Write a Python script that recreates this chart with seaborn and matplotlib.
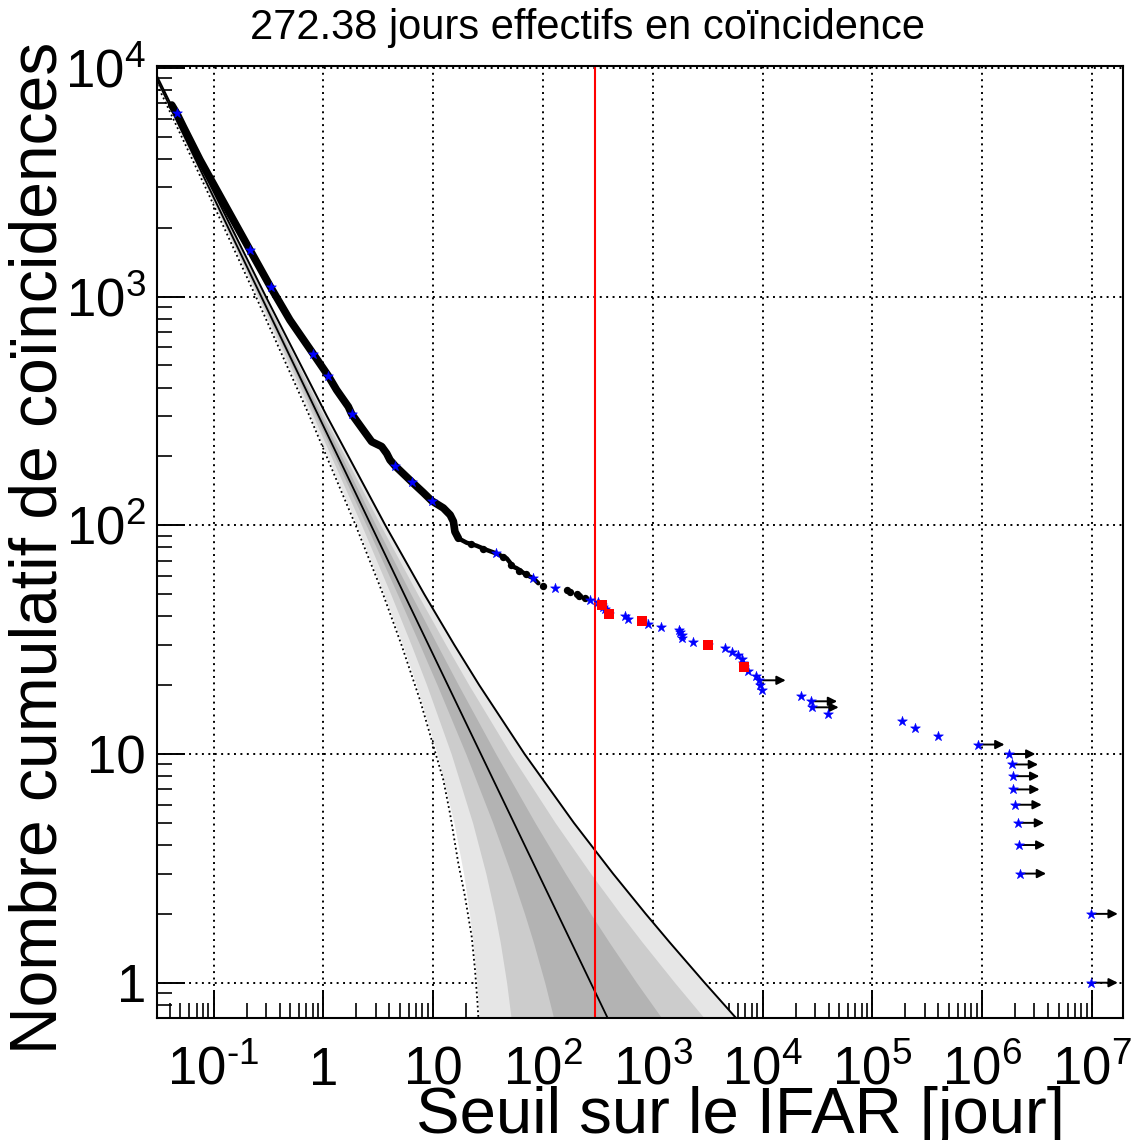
import numpy as np
import pandas as pd
import matplotlib
matplotlib.use("Agg")
import matplotlib.pyplot as plt
from matplotlib.ticker import FixedLocator, LogLocator, NullFormatter
import seaborn as sns

sns.set_theme(style="ticks")
plt.rcParams["font.family"] = ["Liberation Sans", "DejaVu Sans"]
plt.rcParams["mathtext.fontset"] = "custom"
plt.rcParams["mathtext.rm"] = "Liberation Sans"
plt.rcParams["text.color"] = "black"
plt.rcParams["axes.labelcolor"] = "black"

# Titre / seuil
temps_effectif = 272.38
seuil_rouge = 301

# Courbe dense des coincidences (points noirs) : IFAR [jour] et nombre cumulatif
dense_ifar = [90.8, 81.8, 71.1, 57.7, 53.7, 46.8, 37.4, 30.8, 24.9, 20.2, 17.0, 15.8,
              15.3, 14.3, 12.4, 9.71, 8.14, 6.47, 4.50, 4.05, 3.78, 3.40, 2.76, 2.31,
              1.81, 1.69, 1.32, 1.11, 0.811, 0.497, 0.332, 0.215, 0.1515, 0.1069,
              0.0753, 0.0530, 0.0462, 0.0416]
dense_nombre = [55.8, 58.7, 60.6, 64.9, 65.9, 71.7, 75.4, 78.0, 81.4, 83.9, 87.7, 93.8,
                104, 111, 119, 128, 139, 154, 182, 193, 206, 221, 232, 261,
                307, 330, 391, 450, 561, 789, 1098, 1597, 2162, 2925,
                3960, 5533, 6330, 6880]

# Points noirs isoles
points_ifar = [241.7, 214.5, 203.2, 176.6, 164.8, 100.8, 70.0, 60.5, 51.0, 43.0, 28.5, 22.0]
points_nombre = [48, 49, 50, 51, 52, 54, 61, 63, 67, 73, 79, 83]

# Etoiles bleues sur la courbe dense
etoiles_dense_ifar = [0.0462, 0.215, 0.332, 0.811, 1.11, 1.81, 4.50, 6.47, 9.71, 37.4, 81.8, 128.9]
etoiles_dense_nombre = [6330, 1597, 1098, 561, 450, 307, 182, 154, 128, 75.4, 58.7, 53]

# Queue : etoiles bleues (N = 1 ... 47)
queue_nombre = list(range(1, 48))
queue_ifar = [9.9e6, 9.9e6, 2.20e6, 2.17e6, 2.11e6, 2.01e6, 1.92e6, 1.91e6, 1.86e6, 1.76e6,
              9.2e5, 3.94e5, 2.45e5, 1.85e5, 3.97e4, 2.84e4, 2.75e4, 2.24e4, 9.96e3, 9.40e3,
              9.35e3, 8.73e3, 7.43e3, 6.83e3, 6.64e3, 6.47e3, 5.92e3, 5.27e3, 4.55e3, 3.21e3,
              2.31e3, 1.86e3, 1.84e3, 1.77e3, 1.75e3, 1.19e3, 900, 804, 600, 560,
              403, 385, 368, 355, 343, 320, 268]

# Carres rouges
rouges_ifar = [6830, 3210, 804, 403, 343]
rouges_nombre = [24, 30, 38, 41, 45]

# Limites inferieures (fleches)
limites_nombre = [1, 2, 3, 4, 5, 6, 7, 8, 9, 10, 11, 16, 17, 21]

# Bruit de fond attendu : bandes (IFAR des bords pour chaque niveau)
bande_nombre = [10000, 3000, 1000, 300, 100, 50, 30, 20, 10, 5, 3, 2, 1.5, 1, 0.7, 0.6]
bas3 = [0.02643, 0.08595, 0.2477, 0.7637, 2.020, 3.575, 5.285, 7.047, 10.90, 15.50, 18.95, 21.47, 23.06, 24.97, 26.31, 26.80]
bas2 = [0.02670, 0.08754, 0.2557, 0.8090, 2.231, 4.109, 6.315, 8.740, 14.62, 22.89, 30.26, 36.49, 40.88, 46.73, 51.32, 53.10]
bas1 = [0.02697, 0.08915, 0.2639, 0.8570, 2.465, 4.730, 7.566, 10.90, 19.88, 34.96, 51.37, 68.10, 81.97, 104.0, 125.3, 134.7]
haut1 = [0.02751, 0.09247, 0.2811, 0.9619, 3.010, 6.275, 10.90, 17.02, 37.32, 84.89, 160.5, 272.4, 402.3, 713.1, 1209, 1530]
haut2 = [0.02779, 0.09417, 0.2902, 1.019, 3.326, 7.222, 13.06, 21.22, 50.76, 129.6, 272.4, 508.3, 806.5, 1588, 2951, 3881]
haut3 = [0.02807, 0.09590, 0.2995, 1.079, 3.673, 8.301, 15.60, 26.32, 68.10, 191.5, 435.0, 863.8, 1430, 2971, 5755, 7690]

mediane_ifar = [0.0272, 454]
mediane_nombre = [10000, 0.6]

pointille_nombre = [10000, 3000, 1000, 300, 100, 50, 30, 17.2, 7.7, 5.5, 3.33, 2.38, 1.59, 1.14, 0.84, 0.71, 0.6]
pointille_ifar = [0.0260, 0.0845, 0.2430, 0.750, 1.97, 3.50, 5.15, 7.6, 12.39, 14.25, 16.96, 19.52, 22.46, 24.07, 25.26, 25.80, 26.3]

x_ticks = [1e-1, 1, 10, 1e2, 1e3, 1e4, 1e5, 1e6, 1e7]
x_labels = [r"$\mathregular{10^{\text{-}1}}$", "1", "10", r"$\mathregular{10^{2}}$", r"$\mathregular{10^{3}}$",
            r"$\mathregular{10^{4}}$", r"$\mathregular{10^{5}}$", r"$\mathregular{10^{6}}$",
            r"$\mathregular{10^{7}}$"]
y_ticks = [1, 10, 1e2, 1e3, 1e4]
y_labels = ["1", "10", r"$\mathregular{10^{2}}$", r"$\mathregular{10^{3}}$", r"$\mathregular{10^{4}}$"]

# ---------------------------------------------------------------
W, H = 1132, 1140
fig = plt.figure(figsize=(W / 100, H / 100), dpi=100)
ax = fig.add_axes([157 / W, 1 - 1018 / H, (1123 - 157) / W, (1018 - 66) / H])
ax.set_xscale("log")
ax.set_yscale("log")
ax.set_xlim(0.03057, 1.92e7)
ax.set_ylim(0.701, 1.019e4)

# Grille
ax.set_axisbelow(True)
ax.grid(True, which="major", color="black", lw=1.4, linestyle=(0, (1, 2.3)))
ax.grid(False, which="minor")

# Bandes
ax.fill_betweenx(bande_nombre, bas3, haut3, color="#e6e6e6", lw=0, zorder=1)
ax.fill_betweenx(bande_nombre, bas2, haut2, color="#cccccc", lw=0, zorder=1.1)
ax.fill_betweenx(bande_nombre, bas1, haut1, color="#b3b3b3", lw=0, zorder=1.2)

sns.lineplot(x=mediane_ifar, y=mediane_nombre, color="black", lw=1.3, sort=False,
             estimator=None, ax=ax, zorder=2)
sns.lineplot(x=haut3, y=bande_nombre, color="black", lw=1.4, sort=False,
             estimator=None, ax=ax, zorder=2)
ax.plot(pointille_ifar, pointille_nombre, color="black", lw=1.3,
        linestyle=(0, (1, 1.6)), zorder=2)

ax.axvline(seuil_rouge, color="red", lw=1.5, zorder=2.5)

# Courbe dense
dense = pd.DataFrame({"ifar": dense_ifar, "nombre": dense_nombre})
sns.lineplot(data=dense.iloc[10:], x="ifar", y="nombre", color="black", lw=5.5, sort=False,
             estimator=None, ax=ax, zorder=3, solid_capstyle="round", solid_joinstyle="round")
sns.lineplot(data=dense.iloc[:11], x="ifar", y="nombre", color="black", lw=3.2, sort=False,
             estimator=None, ax=ax, zorder=3, solid_capstyle="round", solid_joinstyle="round")
sns.scatterplot(x=points_ifar, y=points_nombre, color="black", s=28, linewidth=0,
                marker="o", ax=ax, zorder=3)

# Fleches
lookup = dict(zip(queue_nombre, queue_ifar))
for n in limites_nombre:
    ax.annotate("", xy=(lookup[n], n), xytext=(19, 0), textcoords="offset points",
                arrowprops=dict(arrowstyle="<|-", color="black", lw=1.4,
                                shrinkA=0, shrinkB=0, mutation_scale=13),
                zorder=4)

# Etoiles
etoiles = pd.DataFrame({"ifar": queue_ifar + etoiles_dense_ifar,
                        "nombre": queue_nombre + etoiles_dense_nombre})
sns.scatterplot(data=etoiles, x="ifar", y="nombre", marker="*", color="#0000ff",
                edgecolor="#0000ff", linewidth=0.4, s=55, ax=ax, zorder=5)

# Carres rouges
sns.scatterplot(x=rouges_ifar, y=rouges_nombre, marker="s", color="#ff0000",
                edgecolor="#ff0000", linewidth=0, s=55, ax=ax, zorder=6)

ax.set_xlabel("")
ax.set_ylabel("")

# Axes et graduations
ax.xaxis.set_major_locator(FixedLocator(x_ticks))
ax.xaxis.set_ticklabels(x_labels)
ax.yaxis.set_major_locator(FixedLocator(y_ticks))
ax.yaxis.set_ticklabels(y_labels)
ax.xaxis.set_minor_locator(LogLocator(base=10, subs=np.arange(2, 10), numticks=100))
ax.yaxis.set_minor_locator(LogLocator(base=10, subs=np.arange(2, 10), numticks=100))
ax.xaxis.set_minor_formatter(NullFormatter())
ax.yaxis.set_minor_formatter(NullFormatter())

ax.tick_params(which="both", direction="in", top=False, right=False, colors="black",
               labelcolor="black")
ax.tick_params(which="major", length=20, width=1.4, labelsize=38)
ax.tick_params(which="minor", length=10.5, width=1.2)
ax.tick_params(axis="x", which="major", pad=48)
ax.tick_params(axis="y", which="major", pad=8)
plt.setp(ax.get_xticklabels(), va="baseline")

for side in ["left", "bottom", "top", "right"]:
    ax.spines[side].set_visible(True)
    ax.spines[side].set_color("black")
    ax.spines[side].set_linewidth(1.5)

# Textes
fig.text(587 / W, 1 - 28 / H, f"{temps_effectif:.2f} jours effectifs en coïncidence",
         ha="center", va="center", fontsize=30, color="black")
fig.text(740 / W, 1 - 1133 / H, "Seuil sur le IFAR [jour]", ha="center", va="baseline",
         fontsize=47, color="black")
fig.text(40 / W, 1 - 548 / H, "Nombre cumulatif de coïncidences", ha="center", va="center",
         rotation=90, fontsize=47.5, color="black")

fig.savefig("out.png", dpi=100)
